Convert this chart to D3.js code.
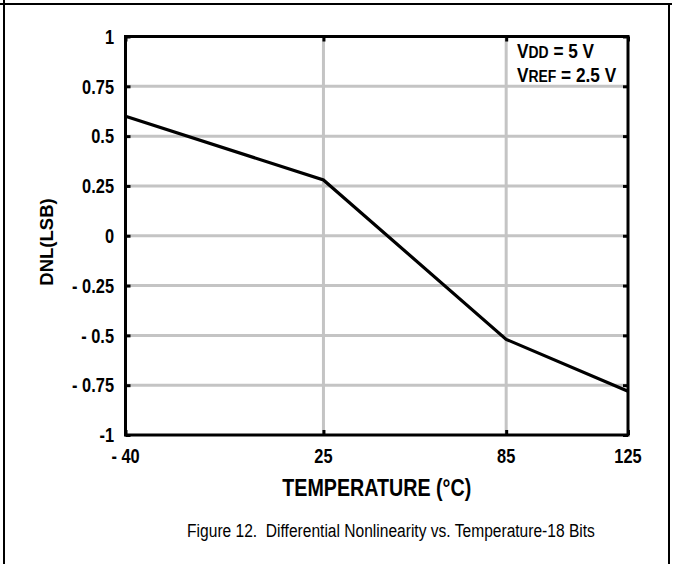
<!DOCTYPE html>
<html>
<head>
<meta charset="utf-8">
<script src="https://cdn.jsdelivr.net/npm/d3@7"></script>
<style>
  html, body { margin: 0; padding: 0; background: #fff; }
  svg { display: block; }
  text { font-family: "Liberation Sans", Arial, sans-serif; white-space: pre; }
</style>
</head>
<body>
<script>
// ---- data ----
const temperatures = [-40, 25, 85, 125];
const dnlValues = [0.6, 0.28, -0.52, -0.78];
const xTickValues = [-40, 25, 85, 125];
const xTickLabels = ["- 40", "25", "85", "125"];
const yTickValues = [-1, -0.75, -0.5, -0.25, 0, 0.25, 0.5, 0.75, 1];
const yTickLabels = ["-1", "- 0.75", "- 0.5", "- 0.25", "0", "0.25", "0.5", "0.75", "1"];
const xTitle = "TEMPERATURE (°C)";
const yTitle = "DNL(LSB)";
const caption = "Figure 12.  Differential Nonlinearity vs. Temperature-18 Bits";

(function () {
const W = 674, H = 564;
const NARROW = 0.82;
const svg = d3.select("body").append("svg").attr("width", W).attr("height", H);

// outer frame
svg.append("line").attr("x1", 0).attr("x2", 672).attr("y1", 4).attr("y2", 4)
  .attr("stroke", "#000").attr("stroke-width", 2);
svg.append("line").attr("x1", 4).attr("x2", 4).attr("y1", 0).attr("y2", H)
  .attr("stroke", "#000").attr("stroke-width", 2);
svg.append("line").attr("x1", 669).attr("x2", 669).attr("y1", 4).attr("y2", H)
  .attr("stroke", "#000").attr("stroke-width", 2);

const pL = 125.5, pR = 628, pT = 36.5, pB = 435;
const x = d3.scaleLinear().domain([-40, 125]).range([pL, pR]);
const y = d3.scaleLinear().domain([-1, 1]).range([pB, pT]);

const grid = svg.append("g");
grid.selectAll("line.h").data(yTickValues.filter(v => v > -1 && v < 1)).enter()
  .append("line").attr("class", "h")
  .attr("x1", pL).attr("x2", pR)
  .attr("y1", d => y(d)).attr("y2", d => y(d))
  .attr("stroke", "#c4c4c4").attr("stroke-width", 3);
grid.selectAll("line.v").data(xTickValues.filter(v => v > -40 && v < 125)).enter()
  .append("line").attr("class", "v")
  .attr("y1", pT).attr("y2", pB)
  .attr("x1", d => x(d)).attr("x2", d => x(d))
  .attr("stroke", "#c4c4c4").attr("stroke-width", 3);

const tickLen = 5;
const axL = svg.append("g").attr("transform", `translate(${pL},0)`)
  .call(d3.axisRight(y).tickValues(yTickValues).tickSize(tickLen).tickFormat(""));
const axR = svg.append("g").attr("transform", `translate(${pR},0)`)
  .call(d3.axisLeft(y).tickValues(yTickValues).tickSize(tickLen).tickFormat(""));
const axT = svg.append("g").attr("transform", `translate(0,${pT})`)
  .call(d3.axisBottom(x).tickValues(xTickValues).tickSize(tickLen).tickFormat(""));
const axB = svg.append("g").attr("transform", `translate(0,${pB})`)
  .call(d3.axisTop(x).tickValues(xTickValues).tickSize(tickLen).tickFormat(""));
[axL, axR, axT, axB].forEach(a => {
  a.select(".domain").remove();
  a.selectAll(".tick line").attr("stroke", "#000").attr("stroke-width", 3);
});

svg.append("rect").attr("x", pL).attr("y", pT)
  .attr("width", pR - pL).attr("height", pB - pT)
  .attr("fill", "none").attr("stroke", "#000").attr("stroke-width", 3);

const pts = temperatures.map((t, i) => [t, dnlValues[i]]);
svg.append("path").datum(pts)
  .attr("d", d3.line().x(d => x(d[0])).y(d => y(d[1])))
  .attr("fill", "none").attr("stroke", "#000").attr("stroke-width", 3.2)
  .attr("stroke-linejoin", "miter");

// y tick labels (narrow bold)
svg.append("g").selectAll("text").data(yTickValues).enter().append("text")
  .attr("transform", d => `translate(114,${y(d)}) scale(${NARROW},1)`)
  .attr("dy", "0.36em")
  .attr("text-anchor", "end").attr("font-weight", "bold").attr("font-size", 20)
  .text((d, i) => yTickLabels[i]);

// x tick labels
svg.append("g").selectAll("text").data(xTickValues).enter().append("text")
  .attr("transform", d => `translate(${x(d)},463) scale(${NARROW},1)`)
  .attr("text-anchor", "middle").attr("font-weight", "bold").attr("font-size", 20)
  .text((d, i) => xTickLabels[i]);

// axis titles
svg.append("text")
  .attr("transform", `translate(${(pL + pR) / 2},496) scale(${NARROW},1)`)
  .attr("text-anchor", "middle").attr("font-weight", "bold").attr("font-size", 24)
  .text(xTitle);
svg.append("text").attr("transform", "translate(53,242) rotate(-90)")
  .attr("text-anchor", "middle").attr("font-weight", "bold").attr("font-size", 18.5)
  .text(yTitle);

// annotation
const ann = svg.append("g").attr("font-weight", "bold").attr("font-size", 21);
const t1 = ann.append("text").attr("transform", `translate(517,58) scale(${NARROW},1)`);
t1.append("tspan").text("V");
t1.append("tspan").attr("font-size", 17).text("DD");
t1.append("tspan").text(" = 5 V");
const t2 = ann.append("text").attr("transform", `translate(517,82) scale(${NARROW},1)`);
t2.append("tspan").text("V");
t2.append("tspan").attr("font-size", 17).text("REF");
t2.append("tspan").text(" = 2.5 V");

// caption
svg.append("text")
  .attr("transform", `translate(391,537) scale(${NARROW},1)`)
  .attr("text-anchor", "middle").attr("font-size", 19)
  .text(caption);
})();
</script>
</body>
</html>
